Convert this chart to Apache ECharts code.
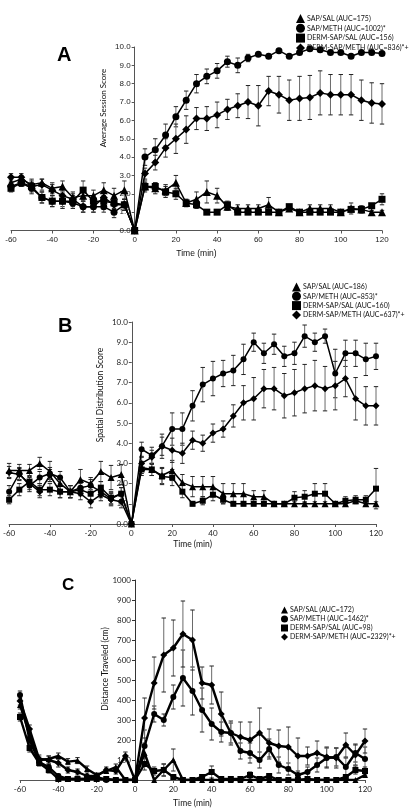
<!DOCTYPE html>
<html><head><meta charset="utf-8">
<script src="https://cdn.jsdelivr.net/npm/echarts@6/dist/echarts.min.js"></script>
<style>html,body{margin:0;padding:0;background:#fff}#c{width:410px;height:812px}</style>
</head><body><div id="c"></div>
<script>
const times = [-60,-55,-50,-45,-40,-35,-30,-25,-20,-15,-10,-5,0,5,10,15,20,25,30,35,40,45,50,55,60,65,70,75,80,85,90,95,100,105,110,115,120];
const symbols = ['triangle','circle','rect','diamond'];

// Panel A: Average Session Score
const namesA = ['SAP/SAL (AUC=175)','SAP/METH (AUC=1002)*','DERM-SAP/SAL (AUC=156)','DERM-SAP/METH (AUC=836)*+'];
const A_sapSal   = [2.6,2.8,2.5,2.6,2.3,2.4,1.8,1.9,1.9,2.2,1.9,2.2, 0, 2.4,2.3,2.2,2.6,1.5,1.7,2.1,1.9,1.3,1.2,1.2,1.2,1.4,1.0,1.2,1.0,1.2,1.2,1.2,1.0,1.2,1.15,1.0,1.0];
const A_sapMeth  = [2.4,2.6,2.3,1.8,1.6,1.6,1.5,1.3,1.3,1.3,1.0,1.4, 0, 4.0,4.4,5.2,6.2,7.1,8.0,8.4,8.7,9.2,9.0,9.4,9.6,9.5,9.8,9.5,9.7,9.9,9.85,9.7,9.7,9.5,9.7,9.7,9.65];
const A_dermSal  = [2.3,2.6,2.4,1.8,1.6,1.6,1.6,2.2,1.6,1.6,1.5,1.4, 0, 2.4,2.4,2.1,2.0,1.5,1.4,1.0,1.0,1.4,1.0,1.0,1.0,1.0,1.0,1.3,1.0,1.0,1.0,1.0,1.0,1.15,1.15,1.35,1.7];
const A_dermMeth = [2.9,2.9,2.4,2.5,2.2,1.9,1.7,1.3,1.3,1.8,1.4,1.4, 0, 3.1,3.7,4.5,5.0,5.5,6.1,6.1,6.3,6.6,6.8,7.0,6.8,7.6,7.4,7.1,7.2,7.25,7.5,7.4,7.4,7.4,7.1,6.95,6.9];
const A_sapSalErr   = [0.2,0.2,0.3,0.2,0.3,0.3,0.3,0.3,0.3,0.4,0.4,0.5, 0, 0.3,0.3,0.3,0.4,0.2,0.4,0.6,0.4,0.2,0.2,0.2,0.2,0.4,0.1,0.1,0.1,0.2,0.2,0.2,0.1,0.3,0.2,0.1,0.1];
const A_sapMethErr  = [0.2,0.2,0.3,0.3,0.3,0.3,0.3,0.3,0.3,0.3,0.3,0.3, 0, 0.45,0.6,0.6,0.55,0.5,0.5,0.4,0.4,0.3,0.4,0.2,0.1,0.1,0.1,0.1,0.1,0.1,0.1,0.1,0.1,0.1,0.1,0.1,0.1];
const A_dermSalErr  = [0.2,0.2,0.2,0.3,0.3,0.4,0.3,0.5,0.3,0.3,0.3,0.3, 0, 0.2,0.2,0.3,0.3,0.2,0.2,0.1,0.1,0.2,0.1,0.1,0.1,0.1,0.1,0.1,0.1,0.1,0.1,0.1,0.1,0.1,0.1,0.1,0.3];
const A_dermMethErr = [0.2,0.2,0.3,0.3,0.3,0.3,0.3,0.3,0.3,0.3,0.3,0.3, 0, 0.3,0.4,0.5,0.8,0.75,0.6,0.65,0.7,0.55,0.65,0.9,1.1,0.8,1.0,1.1,1.2,1.2,1.2,1.1,1.1,1.1,1.1,1.1,1.1];

// Panel B: Spatial Distribution Score
const namesB = ['SAP/SAL (AUC=186)','SAP/METH (AUC=853)*','DERM-SAP/SAL (AUC=160)','DERM-SAP/METH (AUC=637)*+'];
const B_sapSal   = [2.65,2.65,2.65,3.0,2.6,2.0,1.6,2.2,2.0,2.6,2.3,2.45, 0, 2.8,2.7,2.4,2.65,2.05,1.85,1.85,1.85,1.5,1.5,1.5,1.35,1.35,1.0,1.0,1.0,1.0,1.0,1.0,1.0,1.0,1.15,1.0,1.0];
const B_sapMeth  = [1.6,2.5,1.9,2.3,2.5,2.3,1.6,1.8,1.9,1.6,1.25,1.5, 0, 3.7,3.4,3.85,4.7,4.7,5.85,6.9,7.2,7.45,7.6,8.15,9.0,8.45,8.9,8.3,8.45,9.3,9.0,9.3,7.45,8.45,8.45,8.15,8.3];
const B_dermSal  = [1.2,1.7,2.1,1.7,1.7,1.6,1.6,1.7,1.5,1.8,1.3,1.5, 0, 2.7,2.7,2.35,2.3,1.6,1.0,1.15,1.45,1.2,1.0,1.0,1.0,1.0,1.0,1.0,1.3,1.35,1.5,1.5,1.0,1.15,1.2,1.2,1.75];
const B_dermMeth = [2.55,2.45,2.0,1.6,2.4,1.6,1.6,1.5,1.1,1.45,1.2,1.1, 0, 3.0,3.3,3.85,3.65,3.5,4.15,4.0,4.5,4.7,5.35,6.0,6.2,6.7,6.7,6.35,6.5,6.7,6.85,6.7,6.85,7.2,6.2,5.85,5.85];
const B_sapSalErr   = [0.35,0.3,0.3,0.3,0.5,0.3,0.3,0.5,0.3,0.5,0.6,0.5, 0, 0.3,0.3,0.4,0.5,0.4,0.5,0.5,0.5,0.5,0.5,0.5,0.3,0.3,0.1,0.1,0.1,0.1,0.1,0.1,0.1,0.1,0.1,0.1,0.1];
const B_sapMethErr  = [0.3,0.3,0.3,0.3,0.3,0.3,0.3,0.3,0.3,0.3,0.3,0.3, 0, 0.35,0.4,0.6,0.8,0.8,0.75,0.85,0.85,0.65,0.75,0.75,0.45,0.5,0.5,0.5,0.55,0.55,0.45,0.35,1.2,0.65,0.65,0.8,0.65];
const B_dermSalErr  = [0.2,0.3,0.3,0.3,0.3,0.3,0.3,0.3,0.3,0.3,0.3,0.3, 0, 0.3,0.3,0.4,0.4,0.3,0.1,0.2,0.3,0.2,0.1,0.1,0.1,0.1,0.1,0.1,0.3,0.3,0.5,0.5,0.1,0.2,0.2,0.2,1.0];
const B_dermMethErr = [0.3,0.3,0.3,0.3,0.3,0.3,0.3,0.3,0.3,0.3,0.3,0.3, 0, 0.3,0.35,0.45,0.6,0.5,0.45,0.4,0.45,0.4,0.55,0.85,1.05,0.95,1.05,1.1,1.15,1.2,1.25,1.1,1.2,0.9,1.05,0.95,0.95];

// Panel C: Distance Traveled (cm)
const namesC = ['SAP/SAL (AUC=172)','SAP/METH (AUC=1462)*','DERM-SAP/SAL (AUC=98)','DERM-SAP/METH (AUC=2329)*+'];
const C_sapSal   = [375,225,100,105,120,92,97,55,25,45,65,0, 0, 135,0,50,100,0,0,0,0,0,0,0,0,0,0,0,0,0,0,0,0,0,0,0,25,0];
const C_sapMeth  = [425,200,90,65,20,5,5,5,15,0,0,0, 0, 170,330,300,415,510,445,350,280,240,235,145,135,100,155,75,55,25,40,75,110,115,65,135,105];
const C_dermSal  = [315,160,85,50,5,5,5,5,5,5,0,0, 0, 80,45,50,15,0,0,15,40,5,5,5,25,5,20,0,0,0,5,0,0,0,15,50,45];
const C_dermMeth = [395,255,105,100,85,50,40,20,20,50,45,120, 0, 310,485,625,660,730,700,485,475,330,235,215,200,235,185,170,165,120,120,135,115,110,175,125,195];
const C_sapSalErr   = [20,20,15,15,15,15,15,15,10,10,15,0, 0, 50,0,30,55,0,0,0,0,0,0,0,0,0,0,0,0,0,0,0,0,0,0,0,10,0];
const C_sapMethErr  = [20,20,15,15,10,5,5,5,10,0,0,0, 0, 80,40,30,60,140,120,110,80,50,50,40,50,40,50,40,30,20,25,35,50,45,45,45,60];
const C_dermSalErr  = [20,20,15,15,5,5,5,5,5,5,0,0, 0, 30,20,30,10,0,0,10,30,5,5,5,15,5,10,0,0,0,5,0,0,0,10,20,20];
const C_dermMethErr = [20,20,20,20,20,15,15,10,10,15,15,20, 0, 100,130,185,140,165,150,80,95,110,60,75,90,125,70,80,100,90,45,60,50,50,60,50,60];

const panels = [
  {names:namesA, vals:[A_sapSal,A_sapMeth,A_dermSal,A_dermMeth], errs:[A_sapSalErr,A_sapMethErr,A_dermSalErr,A_dermMethErr]},
  {names:namesB, vals:[B_sapSal,B_sapMeth,B_dermSal,B_dermMeth], errs:[B_sapSalErr,B_sapMethErr,B_dermSalErr,B_dermMethErr]},
  {names:namesC, vals:[C_sapSal,C_sapMeth,C_dermSal,C_dermMeth], errs:[C_sapSalErr,C_sapMethErr,C_dermSalErr,C_dermMethErr]}
];

const X_MIN = -60, X_MAX = 120;
const grids = [
  {left:11, top:47, width:371, height:183.5},
  {left:8, top:322, width:368, height:202},
  {left:20, top:580, width:345, height:200}
];
// y axis sits on x = 0: shift it right from the grid's left edge
const yOffset = grids.map(g => -g.width * (0 - X_MIN) / (X_MAX - X_MIN));
const lineW = [1.5, 1.5, 2.4];
const symSize = [[8,7,7,8],[7,6,6,7],[6,6,6,7]];
const fontB = 'Lato, "Open Sans", sans-serif';
const fontA = '"Liberation Sans", Arial, sans-serif';

function errRender(params, api) {
  const x = api.value(0), lo = api.value(1), hi = api.value(2);
  if (!(hi - lo > 0)) return null;
  const p1 = api.coord([x, lo]), p2 = api.coord([x, hi]);
  const cw = 2.2;
  const st = {stroke:'#6a6a6a', lineWidth:1};
  return {type:'group', children:[
    {type:'line', shape:{x1:p1[0], y1:p1[1], x2:p2[0], y2:p2[1]}, style:st},
    {type:'line', shape:{x1:p1[0]-cw, y1:p1[1], x2:p1[0]+cw, y2:p1[1]}, style:{stroke:'#222', lineWidth:1}},
    {type:'line', shape:{x1:p2[0]-cw, y1:p2[1], x2:p2[0]+cw, y2:p2[1]}, style:{stroke:'#222', lineWidth:1}}
  ]};
}

const series = [];
panels.forEach((p, pi) => {
  p.vals.forEach((arr, si) => {
    const err = p.errs[si];
    series.push({
      name: 'err' + pi + '_' + si, type:'custom', xAxisIndex:pi, yAxisIndex:pi, z:1,
      renderItem: errRender, silent:true,
      data: times.map((t, i) => [t, Math.max(0, arr[i] - err[i]), arr[i] + err[i]])
    });
  });
  p.vals.forEach((arr, si) => {
    series.push({
      name: p.names[si], type:'line', xAxisIndex:pi, yAxisIndex:pi, z:3,
      symbol: symbols[si], symbolSize: symSize[pi][si], showAllSymbol:true,
      lineStyle:{color:'#000', width:lineW[pi]}, itemStyle:{color:'#000'},
      data: times.map((t, i) => [t, arr[i]])
    });
  });
});

const xAxisBase = (pi, gap, font) => ({
  type:'value', gridIndex:pi, min:X_MIN, max:X_MAX, interval:20,
  name:'Time (min)', nameLocation:'middle', nameGap:gap,
  nameTextStyle:{fontSize:8.5, color:'#111', fontFamily:font},
  axisLine:{onZero:false, lineStyle:{color:'#555', width:1}},
  axisTick:{show:true, length:3, lineStyle:{color:'#555'}},
  axisLabel:{fontSize:8, color:'#222', margin:5, fontFamily:font},
  splitLine:{show:false}
});
const yAxisBase = (pi, max, interval, font, fmt, col) => ({
  type:'value', gridIndex:pi, min:0, max:max, interval:interval, position:'left', offset:yOffset[pi],
  axisLine:{show:true, onZero:false, lineStyle:{color:col}},
  axisTick:{show:true, length:3, lineStyle:{color:col}},
  axisLabel:{fontSize:8, color:'#222', margin:4, fontFamily:font, formatter:fmt},
  splitLine:{show:false}
});

const legendBase = (names, left, top, iw, gap) => ({
  data: names.map((n,i)=>({name:n, icon:symbols[i]})), orient:'vertical', left:left, top:top,
  itemWidth:iw, itemHeight:iw, itemGap:gap, selectedMode:false,
  textStyle:{fontSize:7, color:'#111', fontFamily:fontB, padding:[0,0,0,-3]}
});

const option = {
  animation:false,
  backgroundColor:'#fff',
  grid: grids,
  xAxis: [xAxisBase(0, 19, fontA), xAxisBase(1, 16, fontB), xAxisBase(2, 19, fontB)],
  yAxis: [
    yAxisBase(0, 10, 1, fontA, v => v.toFixed(1), '#555'),
    yAxisBase(1, 10, 1, fontB, v => v.toFixed(1), '#555'),
    yAxisBase(2, 1000, 100, fontB, v => v === 0 ? '' : String(v), '#333')
  ],
  legend: [
    legendBase(namesA, 291, 9, 9, 0.8),
    legendBase(namesB, 287, 277.5, 9, 0.3),
    legendBase(namesC, 276, 601.5, 7, 2)
  ],
  graphic: [
    {type:'text', left:57, top:45, style:{text:'A', font:'bold 20px ' + fontA, fill:'#000'}},
    {type:'text', left:58, top:316, style:{text:'B', font:'bold 20px ' + fontA, fill:'#000'}},
    {type:'text', left:62, top:577, style:{text:'C', font:'bold 17px ' + fontA, fill:'#000'}},
    {type:'text', x:103, y:108, rotation:Math.PI/2, style:{text:'Average Session Score', font:'8px Lato, sans-serif', fill:'#111', align:'center', verticalAlign:'middle'}},
    {type:'text', x:100, y:395, rotation:Math.PI/2, style:{text:'Spatial Distribution Score', font:'8.5px Lato, sans-serif', fill:'#111', align:'center', verticalAlign:'middle'}},
    {type:'text', x:105, y:669, rotation:Math.PI/2, style:{text:'Distance Traveled (cm)', font:'8.5px Lato, sans-serif', fill:'#111', align:'center', verticalAlign:'middle'}}
  ],
  series: series
};

const chart = echarts.init(document.getElementById('c'), null, {renderer:'canvas'});
chart.setOption(option);
</script>
</body></html>
